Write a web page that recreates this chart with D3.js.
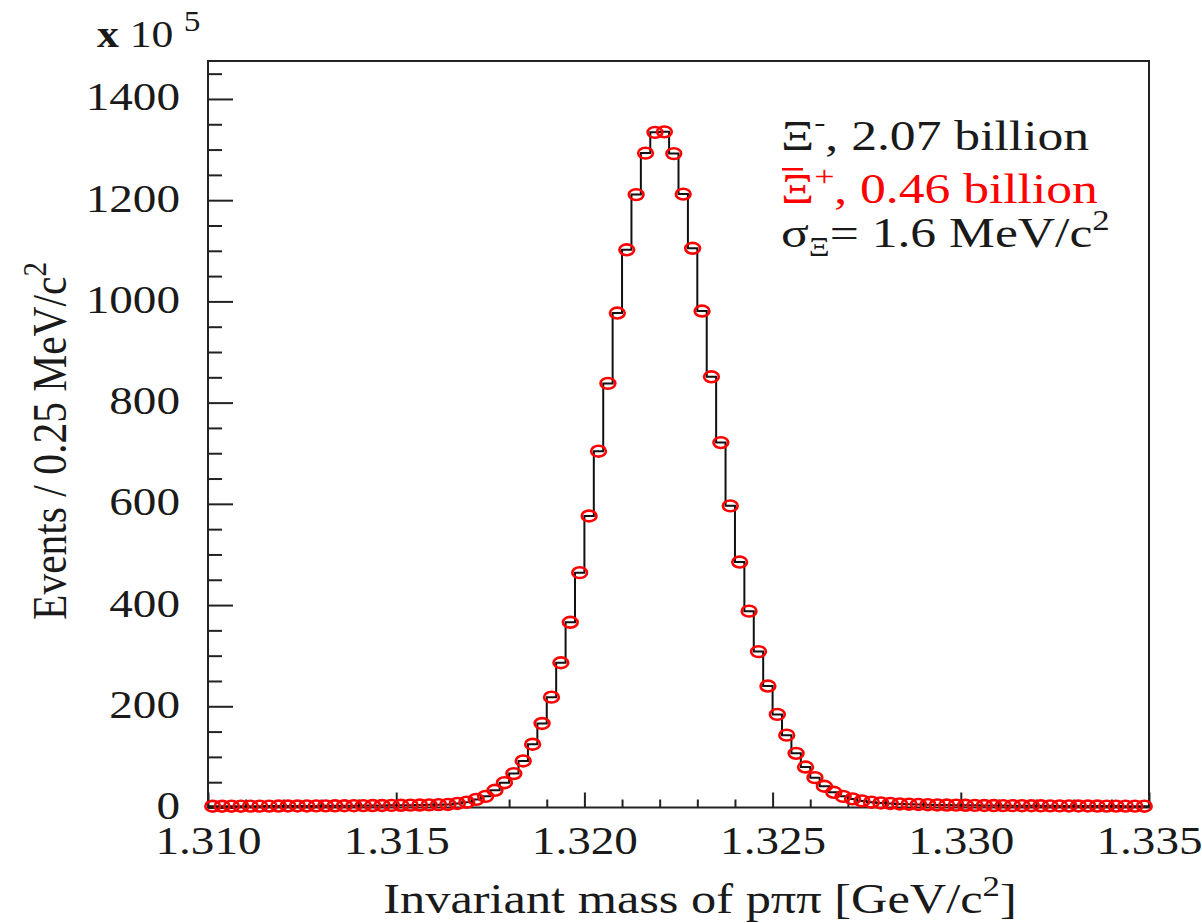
<!DOCTYPE html>
<html>
<head>
<meta charset="utf-8">
<script src="https://cdn.jsdelivr.net/npm/d3@7"></script>
<style>
body { margin: 0; background: #fff; }
svg { display: block; }
text { font-family: "Liberation Serif", "Times New Roman", Times, serif; }
</style>
</head>
<body>
<div id="canvas"></div>
<script>
// ----------------------------------------------------------
// DATA -----------------------------------------------------
// ----------------------------------------------------------
// histogram range in GeV/c2, 100 bins of 0.25 MeV/c2
var massRange = [1.310, 1.335];
var binWidth = 0.00025;
// events per bin, in units of 10^5
var binCounts = [
2.5, 2.5, 2.6, 2.6, 2.7, 2.7, 2.8, 2.9, 3.0, 3.0,
3.1, 3.2, 3.3, 3.4, 3.5, 3.6, 3.8, 3.9, 4.0, 4.2,
4.4, 4.6, 4.9, 5.2, 5.6, 6, 8, 10.5, 16, 22,
34, 49, 67, 92, 125, 166, 218, 286, 366, 464,
576, 704, 838, 977, 1102, 1211, 1293, 1334, 1335, 1292,
1212, 1105, 981, 851, 721, 596, 485, 388, 308, 240,
184, 143, 107, 80, 59, 42, 30, 22, 17, 13,
10.5, 9, 8, 7, 6.5, 6, 5.5, 5, 4.8, 4.6,
4.4, 4.2, 4.0, 3.9, 3.8, 3.7, 3.6, 3.5, 3.4, 3.3,
3.2, 3.1, 3.0, 3.0, 2.9, 2.8, 2.8, 2.7, 2.7, 2.6
];
// axis ticks
var xMajorTicks = [1.310, 1.315, 1.320, 1.325, 1.330, 1.335];
var yMajorTicks = [0, 200, 400, 600, 800, 1000, 1200, 1400];
var yMax = 1475;
// texts
var text_xtitle = "Invariant mass of p\u03c0\u03c0 [GeV/c";
var text_ytitle = "Events / 0.25 MeV/c";
var legend_1 = ", 2.07 billion";
var legend_2 = ", 0.46 billion";
var legend_3 = "= 1.6 MeV/c";

// ----------------------------------------------------------
// STRUCTURE ------------------------------------------------
// ----------------------------------------------------------
var W = 1202, H = 923;
var frame = { left: 208, right: 1149, top: 61, bottom: 807.5 };
var stretch = 1.15; // reference text is a bit wide
var fs = 41;

var svg = d3.select("#canvas").append("svg")
.attr("width", W)
.attr("height", H);

var xScale = d3.scaleLinear().domain(massRange).range([frame.left, frame.right]);
var yScale = d3.scaleLinear().domain([0, yMax]).range([frame.bottom, frame.top]);

// minor ticks
var xMinorTicks = d3.range(1311, 1335).filter(function(d) { return d % 5 !== 0; }).map(function(d) { return d / 1000; });
var yMinorTicks = d3.range(50, yMax, 50).filter(function(d) { return d % 200 !== 0; });

// ----------------------------------------------------------
// AXES -----------------------------------------------------
// ----------------------------------------------------------
function cleanAxis(g) {
g.select(".domain").remove();
g.selectAll(".tick line").attr("stroke", "#222").attr("stroke-width", 2);
}
function styleLabels(g, tr) {
g.selectAll(".tick text")
.attr("x", null).attr("y", null).attr("dy", null)
.attr("transform", tr)
.attr("font-size", fs)
.attr("font-family", "Liberation Serif, Times New Roman, Times, serif")
.attr("fill", "#1a1a1a");
}

// x minor
svg.append("g")
.attr("transform", "translate(0," + frame.bottom + ")")
.call(d3.axisBottom(xScale).tickValues(xMinorTicks).tickSizeInner(-8).tickFormat(""))
.call(cleanAxis);
// x major
svg.append("g")
.attr("transform", "translate(0," + frame.bottom + ")")
.call(d3.axisBottom(xScale).tickValues(xMajorTicks).tickSizeInner(-15).tickFormat(d3.format(".3f")))
.call(cleanAxis)
.call(styleLabels, "translate(0,46) scale(" + stretch + ",1)");

// y minor
svg.append("g")
.attr("transform", "translate(" + frame.left + ",0)")
.call(d3.axisLeft(yScale).tickValues(yMinorTicks).tickSizeInner(-14).tickFormat(""))
.call(cleanAxis);
// y major
svg.append("g")
.attr("transform", "translate(" + frame.left + ",0)")
.call(d3.axisLeft(yScale).tickValues(yMajorTicks).tickSizeInner(-25).tickFormat(d3.format("d")))
.call(cleanAxis)
.call(styleLabels, "translate(-28,11) scale(" + stretch + ",1)");

// frame
svg.append("rect")
.attr("x", frame.left)
.attr("y", frame.top)
.attr("width", frame.right - frame.left)
.attr("height", frame.bottom - frame.top)
.attr("fill", "none")
.attr("stroke", "#222")
.attr("stroke-width", 2);

// ----------------------------------------------------------
// GFX ------------------------------------------------------
// ----------------------------------------------------------
var bins = binCounts.map(function(v, i) {
return { lo: massRange[0] + i * binWidth, hi: massRange[0] + (i + 1) * binWidth, v: v };
});

// black histogram outline
var stepPoints = bins.map(function(b) { return [b.lo, b.v]; });
stepPoints.push([bins[bins.length - 1].hi, bins[bins.length - 1].v]);
svg.append("path")
.datum(stepPoints)
.attr("fill", "none")
.attr("stroke", "#111")
.attr("stroke-width", 2)
.attr("d", d3.line()
.curve(d3.curveStepAfter)
.x(function(d) { return xScale(d[0]); })
.y(function(d) { return yScale(d[1]); }));

// red open markers
svg.append("g")
.selectAll("ellipse")
.data(bins)
.enter()
.append("ellipse")
.attr("cx", function(d) { return xScale((d.lo + d.hi) / 2); })
.attr("cy", function(d) { return yScale(d.v); })
.attr("rx", 7.4)
.attr("ry", 5.4)
.attr("fill", "none")
.attr("stroke", "#ff0000")
.attr("stroke-width", 2.6);

// ----------------------------------------------------------
// TEXT -----------------------------------------------------
// ----------------------------------------------------------
function place(x, y, s) {
return "translate(" + x + "," + y + ") scale(" + (s || stretch) + ",1)";
}
var legStretch = 1.2;

// multiplier
var mult = svg.append("text")
.attr("transform", place(97, 47))
.attr("font-size", 38)
.attr("fill", "#1a1a1a");
mult.append("tspan").attr("font-weight", "bold").text("x");
mult.append("tspan").text(" 10");
mult.append("tspan").attr("font-size", 29).attr("dx", 9).attr("dy", -16).text("5");

// x title
var xt = svg.append("text")
.attr("transform", place(700, 913, 1.2))
.attr("text-anchor", "middle")
.attr("font-size", 42)
.attr("fill", "#1a1a1a");
xt.append("tspan").text(text_xtitle);
xt.append("tspan").attr("font-size", 29).attr("dy", -17).text("2");
xt.append("tspan").attr("dy", 17).text("]");

// y title
var yt = svg.append("text")
.attr("transform", "translate(66,441) scale(" + stretch + ",1) rotate(-90)")
.attr("text-anchor", "middle")
.attr("font-size", 41.5)
.attr("fill", "#1a1a1a");
yt.append("tspan").text(text_ytitle);
yt.append("tspan").attr("font-size", 29).attr("dy", -17).text("2");

// legend line 1
var l1 = svg.append("text")
.attr("transform", place(781, 150, legStretch))
.attr("font-size", 43)
.attr("fill", "#1a1a1a");
l1.append("tspan").text("\u039e");
l1.append("tspan").attr("font-size", 28).attr("dy", -19).text("-");
l1.append("tspan").attr("dy", 19).text(legend_1);

// legend line 2 (anti-particle, red): separate pieces
var xiBar = svg.append("text")
.attr("transform", place(781, 203, legStretch))
.attr("font-size", 43)
.attr("fill", "#ff0000")
.text("\u039e");
var xiW = xiBar.node().getComputedTextLength() * legStretch;
// overline of the anti-Xi
svg.append("rect")
.attr("x", 782)
.attr("y", 168)
.attr("width", 21)
.attr("height", 2.5)
.attr("fill", "#ff0000");
svg.append("text")
.attr("transform", place(781 + xiW, 186, legStretch))
.attr("font-size", 30)
.attr("fill", "#ff0000")
.text("+");
svg.append("text")
.attr("transform", place(781 + xiW + 20, 203, legStretch))
.attr("font-size", 43)
.attr("fill", "#ff0000")
.text(legend_2);

// legend line 3
var l3 = svg.append("text")
.attr("transform", place(781, 247, legStretch))
.attr("font-size", 43)
.attr("fill", "#1a1a1a");
l3.append("tspan").text("\u03c3");
l3.append("tspan").attr("font-size", 27).attr("dy", 9).text("\u039e");
l3.append("tspan").attr("dy", -9).text(legend_3);
l3.append("tspan").attr("font-size", 29).attr("dy", -17).text("2");
</script>
</body>
</html>
